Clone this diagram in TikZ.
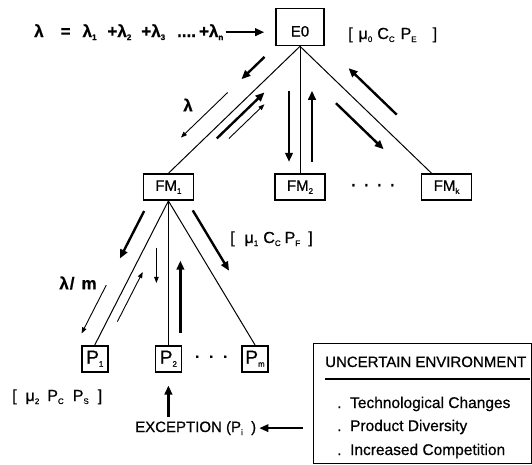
\documentclass[tikz,border=0pt]{standalone}
\usepackage{fontspec}
\setmainfont{Liberation Sans}[FakeBold=0.6]
\usetikzlibrary{arrows.meta,positioning,calc}
\newcommand{\idx}[1]{\raisebox{-3pt}{\fontsize{8}{8}\selectfont #1}}
\newcommand{\along}[6]{\draw[#1] ($(#2)!#4!(#3)!#6!90:(#3)$) -- ($(#2)!#5!(#3)!#6!90:(#3)$);}

\begin{document}
\begin{tikzpicture}[x=1pt,y=-1pt,every node/.style={font=\fontsize{15}{18}\selectfont},
  fm/.style={draw,line width=1.6pt,minimum width=50pt,minimum height=26pt,inner sep=0pt},
  pb/.style={draw,line width=1.6pt,minimum size=26pt,inner sep=0pt,font=\fontsize{19}{19}\selectfont},
  lab/.style={inner sep=0pt},
  lam/.style={inner sep=0pt,font=\fontsize{17}{20}\selectfont\bfseries},
  brk/.style={inner sep=0pt,anchor=base west,font=\fontsize{16}{19}\selectfont},
  envtxt/.style={inner sep=0pt,anchor=base west,font=\fontsize{15.5}{19}\selectfont},
  edge/.style={line width=1pt},
  fat/.style={line width=2.4pt,-{Triangle[length=9pt,width=7.5pt]}},
  thin/.style={line width=0.9pt,-{Triangle[length=6pt,width=4.5pt]}}]
\useasboundingbox (0,0) rectangle (532,464);
\node[fm,minimum width=48pt,minimum height=37pt,text height=19pt,text depth=0pt] (e0) at (300,27) {E0};
\node[fm,below=127pt of e0] (fm2) {FM\idx{2}};
\node[fm,left=80pt of fm2] (fm1) {FM\idx{1}};
\node[fm,right=95pt of fm2] (fmk) {FM\idx{k}};
\node (fmdots) at ($(fm2.east)!0.5!(fmk.west)$) {\textbf{·}\hspace{8pt}\textbf{·}\hspace{8pt}\textbf{·}\hspace{8pt}\textbf{·}};
\coordinate (fmkin) at ([xshift=-15pt]fmk.north);
\node[pb,below=144pt of fm1] (p2) {P\idx{2}};
\node[pb,left=46pt of p2] (p1) {P\idx{1}};
\node[pb,right=59pt of p2] (pm) {P\idx{m}};
\node (pdots) at ($(p2.east)!0.5!(pm.west)$) {\textbf{·}\hspace{9pt}\textbf{·}\hspace{9pt}\textbf{·}};
\draw[edge] (e0.south) -- (fm1.north);
\draw[edge] (e0.south) -- (fm2.north);
\draw[edge] (e0.south) -- (fmkin);
\draw[edge] (fm1.south) -- (p1.north);
\draw[edge] (fm1.south) -- (p2.north);
\draw[edge] (fm1.south) -- (pm.north);
\along{fat}{e0.south}{fm1.north}{0.18}{0.355}{-17pt}
\along{thin}{e0.south}{fm1.north}{0.46}{0.815}{-17pt}
\along{fat}{e0.south}{fm1.north}{0.677}{0.315}{8.5pt}
\along{thin}{e0.south}{fm1.north}{0.63}{0.36}{17pt}
\along{fat}{e0.south}{fm2.north}{0.35}{0.91}{-11pt}
\along{fat}{e0.south}{fm2.north}{0.91}{0.35}{12pt}
\along{fat}{e0.south}{fmkin}{0.64}{0.274}{18pt}
\along{fat}{e0.south}{fmkin}{0.357}{0.72}{-16pt}
\along{fat}{fm1.south}{p1.north}{0.124}{0.454}{-17pt}
\along{thin}{fm1.south}{p1.north}{0.638}{0.974}{-17pt}
\along{thin}{fm1.south}{p1.north}{0.808}{0.464}{9.5pt}
\along{thin}{fm1.south}{p2.north}{0.324}{0.57}{-12pt}
\along{fat}{fm1.south}{p2.north}{0.92}{0.415}{12pt}
\along{fat}{fm1.south}{pm.north}{0.123}{0.542}{16pt}
\node[lam,anchor=base west] (eq) at (34,37) {λ\hspace{17pt}=\hspace{12pt}λ\idx{1}\hspace{11pt}+λ\idx{2}\hspace{10pt}+λ\idx{3}\hspace{12pt}....\hspace{3pt}+λ\idx{n}};
\draw[fat,line width=2pt,shorten <=2pt,shorten >=11pt] (eq.east) -- (eq.east -| e0.west);
\node[brk] (e0c) at (348,39) {[\hspace{6pt}μ\idx{0}\hspace{5pt}C\idx{C}\hspace{6pt}P\idx{E}\hspace{16pt}]};
\node[lam] (lam) at (188,105) {λ};
\node[brk] (fm1c) at (230,243) {[\hspace{10pt}μ\idx{1}\hspace{5pt}C\idx{C}\hspace{4pt}P\idx{F}\hspace{8pt}]};
\node[lam] (lamm) at (78,283) {λ\hspace{1pt}/\hspace{7pt}m};
\node[brk] (p1c) at (12,401) {[\hspace{9pt}μ\idx{2}\hspace{8pt}P\idx{C}\hspace{9pt}P\idx{S}\hspace{9pt}]};
\node[lab,anchor=base west] (exc) at (135,432) {EXCEPTION (P\idx{i}\ \ )};
\draw[fat,shorten <=4pt,shorten >=13pt] (exc.north -| p2.south) -- (p2.south);
\node[draw,line width=0.8pt,minimum width=218pt,minimum height=120pt,anchor=north west,inner sep=0pt] (env) at (313,343) {};
\draw[fat,line width=1.8pt,shorten <=10pt,shorten >=3pt] (exc.east -| env.west) -- (exc.east);
\node[envtxt,font=\fontsize{15}{18}\selectfont] (envt) at ($(env.north west)+(12,24)$) {UNCERTAIN ENVIRONMENT};
\draw[line width=1.8pt] ($(env.north west)+(12,36)$) -- ($(env.north east)+(-2,36)$);
\node[envtxt] (it1) at ($(env.north west)+(24,65)$) {.\ \ Technological Changes};
\node[envtxt] (it2) at ($(env.north west)+(24,88)$) {.\ \ Product Diversity};
\node[envtxt] (it3) at ($(env.north west)+(24,112)$) {.\ \ Increased Competition};
\end{tikzpicture}
\end{document}
